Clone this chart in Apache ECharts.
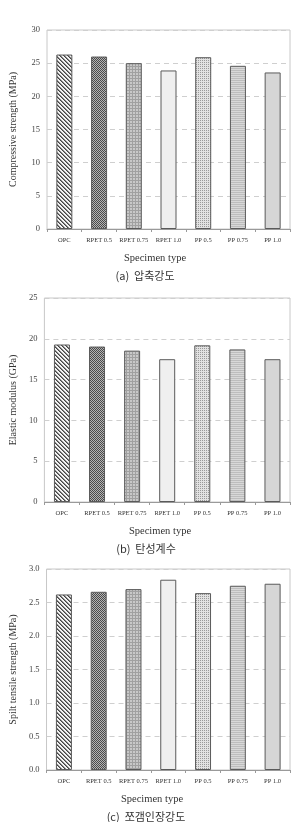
<!DOCTYPE html>
<html>
<head>
<meta charset="utf-8">
<script src="https://cdn.jsdelivr.net/npm/echarts@6/dist/echarts.min.js"></script>
<style>
  html, body { margin: 0; padding: 0; background: #fff; }
  #chart { width: 294px; height: 822px; }
</style>
</head>
<body>
<div id="chart"></div>
<script>
'use strict';

var categories = ['OPC', 'RPET 0.5', 'RPET 0.75', 'RPET 1.0', 'PP 0.5', 'PP 0.75', 'PP 1.0'];
var compressive = [26.3, 26.0, 25.0, 23.9, 25.9, 24.6, 23.6];
var elastic = [19.3, 19.05, 18.55, 17.5, 19.2, 18.7, 17.5];
var splitTensile = [2.62, 2.66, 2.70, 2.84, 2.64, 2.75, 2.78];

var yNames = ['Compressive strength (MPa)', 'Elastic modulus (GPa)', 'Spilt tensile strength (MPa)'];
var xName = 'Specimen type';
var captions = ['(a)  압축강도', '(b)  탄성계수', '(c)  쪼갬인장강도'];

var serif = '"Liberation Serif", "DejaVu Serif", serif';
var sans = '"Noto Sans CJK KR", "Noto Sans", sans-serif';

// little canvas tiles used as hatch fills
function tile(size, draw) {
    var c = document.createElement('canvas');
    c.width = c.height = size;
    var g = c.getContext('2d');
    draw(g, size);
    return { image: c, repeat: 'repeat' };
}
function px(g, x, y, col) { g.fillStyle = col; g.fillRect(x, y, 1, 1); }

var fills = [
    tile(4, function(g, s) {           // diagonal stripes
        g.fillStyle = '#f4f4f4'; g.fillRect(0, 0, s, s);
        for (var i = 0; i < s; i++) { px(g, i, i, '#444'); px(g, (i + 1) % s, i, '#888'); }
    }),
    tile(2, function(g, s) {           // dense check
        g.fillStyle = '#b4b4b4'; g.fillRect(0, 0, s, s);
        px(g, 0, 0, '#4a4a4a'); px(g, 1, 1, '#4a4a4a');
    }),
    tile(3, function(g, s) {           // grid
        g.fillStyle = '#c8c8c8'; g.fillRect(0, 0, s, s);
        for (var i = 0; i < s; i++) { px(g, i, 0, '#a0a0a0'); px(g, 0, i, '#a0a0a0'); }
    }),
    '#efefef',
    tile(2, function(g, s) {           // dots
        g.fillStyle = '#e2e2e2'; g.fillRect(0, 0, s, s);
        px(g, 0, 0, '#999');
    }),
    tile(2, function(g, s) {           // horizontal lines
        g.fillStyle = '#d8d8d8'; g.fillRect(0, 0, s, s);
        px(g, 0, 0, '#bdbdbd'); px(g, 1, 0, '#bdbdbd');
    }),
    '#d6d6d6'
];

var grids = [
    { left: 36, top: 30, width: 254, height: 199 },
    { left: 31, top: 298, width: 259, height: 204 },
    { left: 35, top: 569, width: 255, height: 201 }
];
var yRanges = [
    { max: 30, interval: 5, digits: 0 },
    { max: 25, interval: 5, digits: 0 },
    { max: 3, interval: 0.5, digits: 1 }
];
var values = [compressive, elastic, splitTensile];
var nameGaps = [29, 24, 28];
var xNameCenters = [155, 160, 152];
var captionCenters = [145, 146, 146];

var chart = echarts.init(document.getElementById('chart'), null, { renderer: 'canvas' });

var option = {
    animation: false,
    backgroundColor: '#fff',
    grid: [], xAxis: [], yAxis: [], series: [], graphic: []
};

grids.forEach(function(gr, k) {
    option.grid.push({
        left: gr.left, top: gr.top, width: gr.width, height: gr.height,
        show: true, borderColor: '#c8c8c8', borderWidth: 1, containLabel: false
    });
    option.xAxis.push({
        type: 'category', gridIndex: k, data: categories,
        axisLine: { lineStyle: { color: '#9a9a9a' } },
        axisTick: { show: true, length: 3, lineStyle: { color: '#9a9a9a' } },
        axisLabel: { fontFamily: serif, fontSize: 6.5, color: '#333', margin: 8, interval: 0 }
    });
    var r = yRanges[k];
    option.yAxis.push({
        type: 'value', gridIndex: k, min: 0, max: r.max, interval: r.interval,
        name: yNames[k], nameLocation: 'middle', nameRotate: 90, nameGap: nameGaps[k],
        nameTextStyle: { fontFamily: serif, fontSize: 10, color: '#333' },
        axisLine: { show: false }, axisTick: { show: false },
        axisLabel: {
            fontFamily: serif, fontSize: 8.5, color: '#444', margin: 7,
            formatter: function(v) { return v.toFixed(r.digits); }
        },
        splitLine: { lineStyle: { color: '#cfcfcf', type: [5, 4] } }
    });
    option.series.push({
        type: 'bar', xAxisIndex: k, yAxisIndex: k, barWidth: 16,
        data: values[k].map(function(v, i) {
            return { value: v, itemStyle: { color: fills[i], borderColor: '#5a5a5a', borderWidth: 1 } };
        })
    });
    var bottom = gr.top + gr.height;
    option.graphic.push({
        type: 'text', x: xNameCenters[k], y: bottom + 29,
        style: { text: xName, font: '10.5px ' + serif, fill: '#333', textAlign: 'center', textVerticalAlign: 'middle' }
    });
    option.graphic.push({
        type: 'text', x: captionCenters[k], y: bottom + 46.5,
        style: { text: captions[k], font: '11px ' + sans, fill: '#333', textAlign: 'center', textVerticalAlign: 'middle' }
    });
});

chart.setOption(option);
</script>
</body>
</html>
